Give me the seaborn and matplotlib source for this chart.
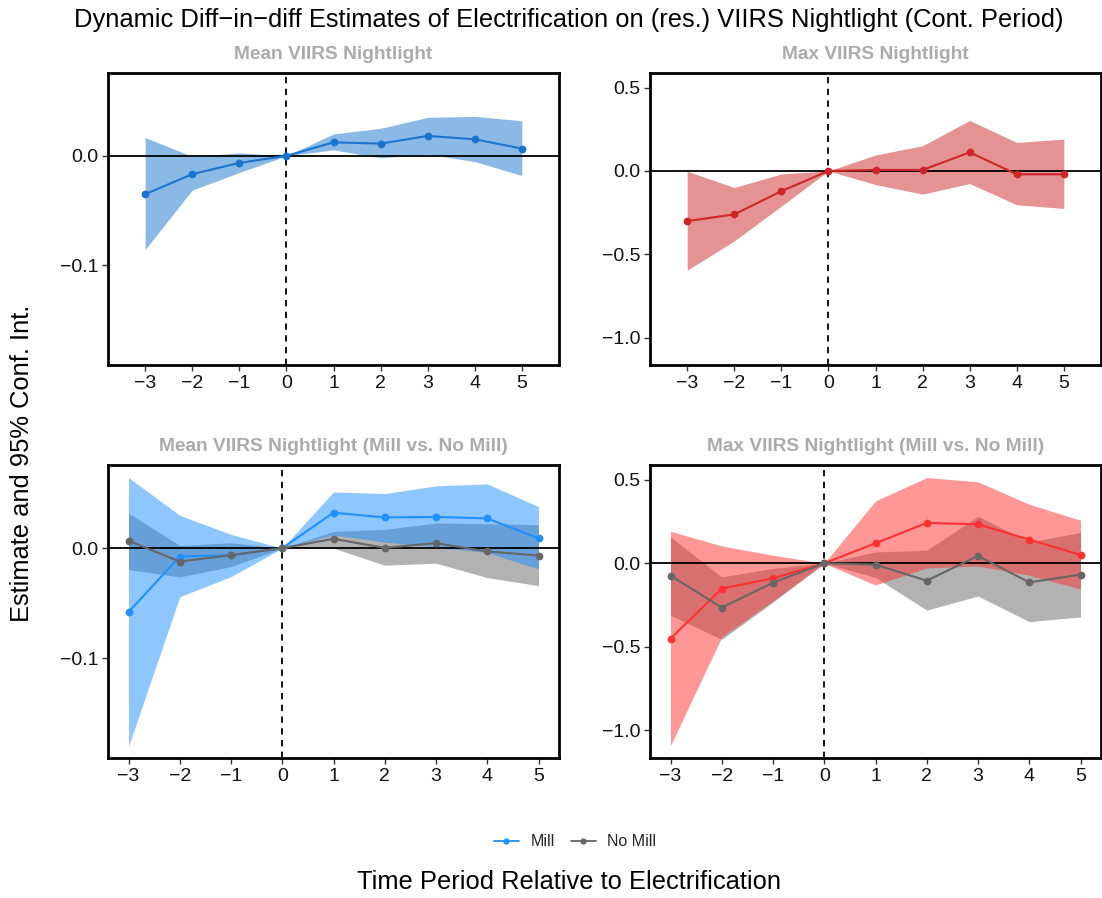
import numpy as np
import pandas as pd
import matplotlib
matplotlib.use("Agg")
import matplotlib.pyplot as plt
from matplotlib.lines import Line2D
import seaborn as sns

# Event-time periods relative to electrification
periods = [-3, -2, -1, 0, 1, 2, 3, 4, 5]

# Mean VIIRS nightlight: estimate and 95% CI
mean_est = [-0.035, -0.0167, -0.0064, 0.0, 0.0124, 0.0112, 0.0182, 0.0152, 0.0067]
mean_lo = [-0.0855, -0.0312, -0.0152, 0.0, 0.0055, -0.0018, 0.0015, -0.0052, -0.0179]
mean_hi = [0.0167, -0.0005, 0.0027, 0.0, 0.020, 0.0252, 0.0352, 0.0361, 0.0321]

# Max VIIRS nightlight: estimate and 95% CI
max_est = [-0.301, -0.261, -0.1215, 0.0, 0.006, 0.006, 0.1116, -0.020, -0.020]
max_lo = [-0.596, -0.420, -0.211, 0.0, -0.0817, -0.139, -0.0757, -0.203, -0.225]
max_hi = [-0.002, -0.0996, -0.018, 0.0, 0.0956, 0.151, 0.303, 0.171, 0.191]

# Mean VIIRS nightlight, mill vs. no mill villages
mean_mill_est = [-0.0582, -0.0076, -0.0064, 0.0, 0.0323, 0.028, 0.0284, 0.0271, 0.0091]
mean_mill_lo = [-0.1805, -0.0442, -0.0259, 0.0, 0.012, 0.0055, 0.001, -0.004, -0.0189]
mean_mill_hi = [0.0643, 0.0299, 0.0125, 0.0, 0.0512, 0.0497, 0.0567, 0.0585, 0.0378]
mean_nomill_est = [0.0067, -0.0122, -0.0064, 0.0, 0.0085, 0.0003, 0.0046, -0.003, -0.0067]
mean_nomill_lo = [-0.0195, -0.0262, -0.0168, 0.0, 0.0, -0.0155, -0.0137, -0.0268, -0.0341]
mean_nomill_hi = [0.032, 0.0024, 0.0049, 0.0, 0.0152, 0.0171, 0.0229, 0.0223, 0.0213]

# Max VIIRS nightlight, mill vs. no mill villages
max_mill_est = [-0.451, -0.152, -0.0898, 0.0, 0.120, 0.2415, 0.2335, 0.1417, 0.050]
max_mill_lo = [-1.09, -0.441, -0.225, 0.0, -0.13, -0.028, -0.016, -0.072, -0.154]
max_mill_hi = [0.1916, 0.1038, 0.048, 0.0, 0.373, 0.513, 0.487, 0.353, 0.2575]
max_nomill_est = [-0.074, -0.265, -0.116, 0.0, -0.008, -0.104, 0.044, -0.114, -0.068]
max_nomill_lo = [-0.311, -0.455, -0.233, 0.0, -0.085, -0.28, -0.196, -0.349, -0.321]
max_nomill_hi = [0.158, -0.082, -0.03, 0.0, 0.068, 0.078, 0.281, 0.128, 0.184]

group_labels = ["Mill", "No Mill"]
panel_titles = [
    "Mean VIIRS Nightlight",
    "Max VIIRS Nightlight",
    "Mean VIIRS Nightlight (Mill vs. No Mill)",
    "Max VIIRS Nightlight (Mill vs. No Mill)",
]
mean_yticks = [0.0, -0.1]
max_yticks = [0.5, 0.0, -0.5, -1.0]

sns.set_theme(style="white")
plt.rcParams["font.family"] = ["Liberation Sans", "DejaVu Sans"]
plt.rcParams["axes.unicode_minus"] = True

fig = plt.figure(figsize=(11.02, 8.98), dpi=100)
W, H = 1102, 898


def add_panel(x0, x1, ytop, ybot):
    return fig.add_axes([x0 / W, 1 - ybot / H, (x1 - x0) / W, (ybot - ytop) / H])


ax_tl = add_panel(108, 559, 73, 365)
ax_tr = add_panel(650, 1101, 73, 365)
ax_bl = add_panel(108, 559, 465, 758)
ax_br = add_panel(650, 1101, 465, 758)

GRAY = "#666666"
MS = 5.6


def style_axes(ax, title, yticks, ylim, xlim):
    ax.set_xlim(*xlim)
    ax.set_ylim(*ylim)
    ax.set_xticks(periods)
    ax.set_xticklabels([str(p).replace("-", "\u2212") for p in periods])
    ax.set_yticks(yticks)
    ax.set_yticklabels([f"{t:.1f}".replace("-", "\u2212") for t in yticks])
    ax.tick_params(axis="both", direction="out", length=4, width=1,
                   color="#333333", labelsize=14, labelcolor="#111111",
                   pad=3, bottom=True, left=True)
    for s in ax.spines.values():
        s.set_color("black")
        s.set_linewidth(2.0)
        s.set_visible(True)
    ax.set_xlabel("")
    ax.set_ylabel("")
    ax.set_title(title, fontsize=13.8, fontweight="bold", color="#ABABAB", pad=10)
    ax.axhline(0, color="black", lw=1.3, zorder=3)
    ax.axvline(0, color="black", lw=1.3, ls=(0, (3.5, 3)), zorder=3)
    if ax.get_legend() is not None:
        ax.get_legend().remove()


def single_series(ax, est, lo, hi, line_color, fill_color):
    ax.fill_between(periods, lo, hi, color=fill_color, alpha=0.5, lw=0, zorder=1)
    df = pd.DataFrame({"period": periods, "estimate": est})
    sns.lineplot(data=df, x="period", y="estimate", ax=ax, color=line_color,
                 marker="o", markersize=MS, markeredgewidth=0, lw=1.5, zorder=4)


def two_series(ax, mill, nomill, mill_color):
    m_est, m_lo, m_hi = mill
    n_est, n_lo, n_hi = nomill
    ax.fill_between(periods, n_lo, n_hi, color=GRAY, alpha=0.5, lw=0, zorder=1)
    ax.fill_between(periods, m_lo, m_hi, color=mill_color, alpha=0.5, lw=0, zorder=2)
    df = pd.DataFrame({
        "period": periods * 2,
        "estimate": list(m_est) + list(n_est),
        "group": [group_labels[0]] * len(periods) + [group_labels[1]] * len(periods),
    })
    sns.lineplot(data=df, x="period", y="estimate", hue="group", ax=ax,
                 palette={group_labels[0]: mill_color, group_labels[1]: GRAY},
                 marker="o", markersize=MS, markeredgewidth=0, lw=1.5,
                 zorder=4, legend=False)


mean_ylim = (-0.191, 0.0757)
max_ylim = (-1.165, 0.588)
top_xlim = (-3.79, 5.79)
bot_xlim = (-3.4, 5.4)

single_series(ax_tl, mean_est, mean_lo, mean_hi, "#1874CD", "#1874CD")
style_axes(ax_tl, panel_titles[0], mean_yticks, mean_ylim, top_xlim)

single_series(ax_tr, max_est, max_lo, max_hi, "#CD2626", "#CD2626")
style_axes(ax_tr, panel_titles[1], max_yticks, max_ylim, top_xlim)

two_series(ax_bl, (mean_mill_est, mean_mill_lo, mean_mill_hi),
           (mean_nomill_est, mean_nomill_lo, mean_nomill_hi), "#1E90FF")
style_axes(ax_bl, panel_titles[2], mean_yticks, mean_ylim, bot_xlim)

two_series(ax_br, (max_mill_est, max_mill_lo, max_mill_hi),
           (max_nomill_est, max_nomill_lo, max_nomill_hi), "#FF3030")
style_axes(ax_br, panel_titles[3], max_yticks, max_ylim, bot_xlim)

fig.text(569 / W, 1 - 20 / H,
         "Dynamic Diff\u2212in\u2212diff Estimates of Electrification on (res.) VIIRS Nightlight (Cont. Period)",
         ha="center", va="center", fontsize=18.4, color="black")
fig.text(22 / W, 1 - 463 / H, "Estimate and 95% Conf. Int.", rotation=90,
         ha="center", va="center", fontsize=18.4, color="black")
fig.text(569 / W, 1 - 882 / H, "Time Period Relative to Electrification",
         ha="center", va="center", fontsize=18.4, color="black")

handles = [
    Line2D([], [], color="#1E90FF", marker="o", markersize=4.5, markeredgewidth=0, lw=1.3),
    Line2D([], [], color=GRAY, marker="o", markersize=4.5, markeredgewidth=0, lw=1.3),
]
fig.legend(handles, group_labels, loc="center", bbox_to_anchor=(575 / W, 1 - 842 / H),
           ncol=2, frameon=False, fontsize=11.5, handlelength=1.6, columnspacing=1.0,
           handletextpad=0.7)

fig.savefig("out.png", dpi=100)
